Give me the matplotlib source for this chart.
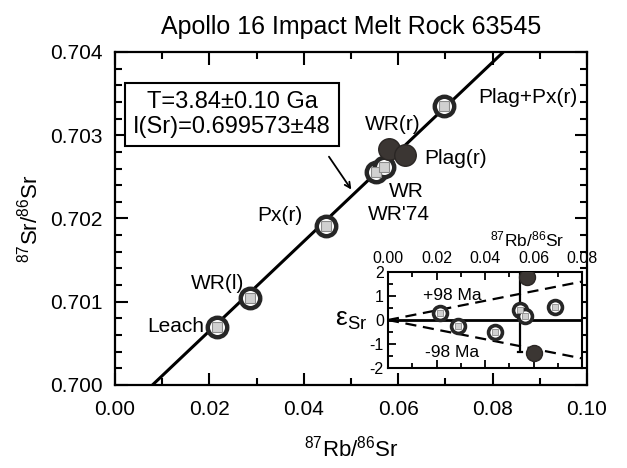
import matplotlib
matplotlib.use("Agg")
import matplotlib.pyplot as plt
from matplotlib.ticker import MultipleLocator

plt.rcParams['font.family'] = ['Liberation Sans', 'DejaVu Sans']
plt.rcParams['mathtext.fontset'] = 'custom'
plt.rcParams['mathtext.rm'] = 'Liberation Sans'
plt.rcParams['mathtext.it'] = 'Liberation Sans:italic'
plt.rcParams['mathtext.bf'] = 'Liberation Sans:bold'

# isochron data (87Rb/86Sr, 87Sr/86Sr)
names_open = ["Leach", "WR(l)", "Px(r)", "WR'74", "WR", "Plag+Px(r)"]
rb_open = [0.0216, 0.0286, 0.0447, 0.0553, 0.0570, 0.0697]
sr_open = [0.70070, 0.70104, 0.70191, 0.70256, 0.70262, 0.70335]

names_fill = ["WR(r)", "Plag(r)"]
rb_fill = [0.0580, 0.0614]
sr_fill = [0.70283, 0.70276]

# isochron line
line_x = [0.0, 0.10]
line_y = [0.699573, 0.699573 + 0.0538 * 0.10]

# inset: epsilon Sr deviations
eps_open = [0.29, -0.25, -0.50, 0.42, 0.17, 0.54]
rb_eps_open = [0.0213, 0.0288, 0.0442, 0.0546, 0.0563, 0.0688]
eps_fill = [1.79, -1.38]
rb_eps_fill = [0.0575, 0.0604]
env_x = [0.0, 0.08]
env_up = [0.0, 1.6]
env_lo = [0.0, -1.6]

fig = plt.figure(figsize=(6.27, 4.68), dpi=100)
ax = fig.add_axes([0.1834, 0.1774, 0.7528, 0.7115])

ax.plot(line_x, line_y, color='black', lw=2.2, zorder=2)

ring = dict(marker='o', ms=14, mfc='white', mec='#262626', mew=3.2, ls='none', zorder=3)
sq = dict(marker='s', ms=6.5, mfc='#d0d0d0', mec='#8a8a8a', mew=0.8, ls='none', zorder=4)
ax.plot(rb_open, sr_open, **ring)
ax.plot(rb_open, sr_open, **sq)
ax.plot(rb_fill, sr_fill, marker='o', ms=15.5, mfc='#3b3633', mec='#2a2624',
        mew=1, ls='none', zorder=5)

lab = dict(fontsize=15)
ax.text(0.0128, 0.70070, "Leach", ha='center', va='center', **lab)
ax.text(0.0218, 0.70122, "WR(l)", ha='center', va='center', **lab)
ax.text(0.0350, 0.70203, "Px(r)", ha='center', va='center', **lab)
ax.text(0.0588, 0.70313, "WR(r)", ha='center', va='center', **lab)
ax.text(0.0722, 0.70272, "Plag(r)", ha='center', va='center', **lab)
ax.text(0.0617, 0.70232, "WR", ha='center', va='center', **lab)
ax.text(0.0601, 0.70205, "WR'74", ha='center', va='center', **lab)
ax.text(0.0874, 0.70345, "Plag+Px(r)", ha='center', va='center', **lab)

ax.text(0.0248, 0.70325, "T=3.84\u00b10.10 Ga\nI(Sr)=0.699573\u00b148",
        ha='center', va='center', fontsize=17, linespacing=1.15,
        bbox=dict(boxstyle='square,pad=0.35', fc='white', ec='black', lw=1.5))
ax.annotate("", xy=(0.0504, 0.70232), xytext=(0.0450, 0.70277),
            arrowprops=dict(arrowstyle='->', color='black', lw=1.3))

ax.set_xlim(0, 0.10)
ax.set_ylim(0.700, 0.704)
ax.xaxis.set_major_locator(MultipleLocator(0.02))
ax.xaxis.set_minor_locator(MultipleLocator(0.01))
ax.yaxis.set_major_locator(MultipleLocator(0.001))
ax.yaxis.set_minor_locator(MultipleLocator(0.0002))
ax.xaxis.set_major_formatter(lambda v, p: f"{v:.2f}")
ax.yaxis.set_major_formatter(lambda v, p: f"{v:.3f}")
ax.tick_params(which='both', direction='in', top=True, right=True, width=1.5,
               labelsize=15, pad=9)
ax.tick_params(axis='x', pad=11)
ax.tick_params(which='major', length=9)
ax.tick_params(which='minor', length=5)
for s in ax.spines.values():
    s.set_linewidth(1.6)

ax.set_xlabel(r"$^{87}$Rb/$^{86}$Sr", fontsize=16, labelpad=12)
ax.set_ylabel(r"$^{87}$Sr/$^{86}$Sr", fontsize=16, labelpad=5)
ax.set_title("Apollo 16 Impact Melt Rock 63545", fontsize=18, pad=13)

# inset
ins = fig.add_axes([388 / 627, 1 - 368 / 468, 194 / 627, 96 / 468])
ins.plot(env_x, env_up, color='black', lw=1.6, ls=(0, (5, 3)))
ins.plot(env_x, env_lo, color='black', lw=1.6, ls=(0, (5, 3)))
ins.axhline(0, color='black', lw=2)
ins.vlines(0.0546, -1.33, 2.0, color='black', lw=1.6)
ins.plot([0.0538, 0.0554], [-1.33, -1.33], color='black', lw=1.6)
ins.plot(rb_eps_open, eps_open, marker='o', ms=10, mfc='white', mec='#262626',
         mew=2.6, ls='none', zorder=3)
ins.plot(rb_eps_open, eps_open, marker='s', ms=4.5, mfc='#d0d0d0', mec='#8a8a8a',
         mew=0.6, ls='none', zorder=4)
ins.plot(rb_eps_fill, eps_fill, marker='o', ms=11.5, mfc='#3b3633', mec='#2a2624',
         mew=1, ls='none', zorder=5)
ins.text(0.0265, 1.0, "+98 Ma", ha='center', va='center', fontsize=12.5)
ins.text(0.0265, -1.35, "-98 Ma", ha='center', va='center', fontsize=12.5)

ins.set_xlim(0, 0.08)
ins.set_ylim(-2, 2)
ins.xaxis.set_major_locator(MultipleLocator(0.02))
ins.xaxis.set_minor_locator(MultipleLocator(0.01))
ins.yaxis.set_major_locator(MultipleLocator(1))
ins.yaxis.set_minor_locator(MultipleLocator(0.5))
ins.xaxis.set_major_formatter(lambda v, p: f"{v:.2f}")
ins.yaxis.set_major_formatter(lambda v, p: f"{v:.0f}")
ins.tick_params(which='both', direction='in', top=True, bottom=True,
                labeltop=True, labelbottom=False, width=1.3, labelsize=11.5, pad=3)
ins.tick_params(axis='x', pad=4)
ins.tick_params(which='major', length=6)
ins.tick_params(which='minor', length=3.5)
for s in ins.spines.values():
    s.set_linewidth(1.5)
ins.text(0.72, 1.34, r"$^{87}$Rb/$^{86}$Sr", transform=ins.transAxes,
         ha='center', va='center', fontsize=12.5)
ins.text(-0.105, 0.5, "\u03b5$_{\\rm Sr}$", transform=ins.transAxes,
         ha='right', va='center', fontsize=19)

fig.savefig("out.png", dpi=100)
